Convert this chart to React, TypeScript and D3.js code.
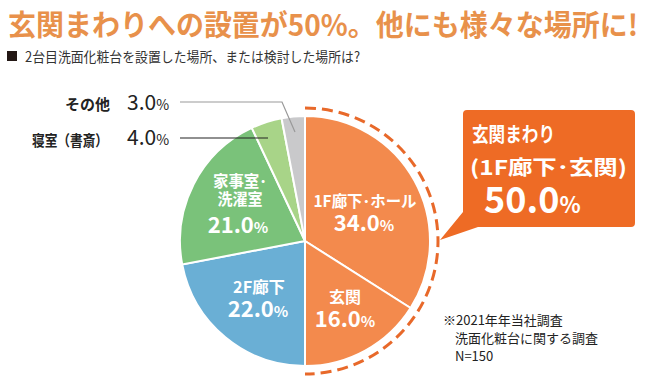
import React from "react";
import * as d3 from "d3";

const categories = ["1F廊下･ホール", "玄関", "2F廊下", "家事室･洗濯室", "寝室（書斎）", "その他"];
const values = [34.0, 16.0, 22.0, 21.0, 4.0, 3.0];
const colors = ["#F38A4D", "#F38A4D", "#6AAFD5", "#7AC27A", "#A8D488", "#C9C9CB"];
const insideLabels: (string[] | null)[] = [["1F廊下･ホール"], ["玄関"], ["2F廊下"], ["家事室･", "洗濯室"], null, null];

const FONT = "'Noto Sans CJK JP', 'Noto Sans', sans-serif";

export default function App() {
  const W = 654, H = 383;
  const cx = 305, cy = 241, R = 125, RD = 133;
  const pie = d3.pie<number>().sort(null).value((d) => d)(values);
  const arc = d3.arc<d3.PieArcDatum<number>>().innerRadius(0).outerRadius(R);
  const dashPath = d3.path();
  dashPath.arc(0, 0, RD, -Math.PI / 2, Math.PI / 2);
  const labelPos: [number, number][] = [[365, 207], [345, 303], [259, 293], [240, 187]];
  const labelW: number[][] = [[103], [32], [52], [54, 45]];
  const pctPos: [number, number][] = [[364, 231], [345, 327], [258, 317], [238, 233]];
  const pct = (v: number, big: number, small: number) => (
    <>
      <tspan fontSize={big}>{v.toFixed(1)}</tspan>
      <tspan fontSize={small}>%</tspan>
    </>
  );
  return (
    <svg width={W} height={H} style={{ position: "absolute", left: 0, top: 0, background: "#fff" }} fontFamily={FONT}>
      <text x={8} y={36} fontSize={29} fontWeight={700} fill="#E8914B" textLength={630} lengthAdjust="spacingAndGlyphs">
        玄関まわりへの設置が50%。他にも様々な場所に!
      </text>
      <rect x={7} y={51} width={10} height={10} fill="#231815" />
      <text x={25} y={62} fontSize={14} fill="#333" textLength={335} lengthAdjust="spacingAndGlyphs">2台目洗面化粧台を設置した場所、または検討した場所は?</text>

      <g transform={`translate(${cx},${cy})`}>
        {pie.map((p, i) => (
          <path key={i} d={arc(p) || ""} fill={colors[i]} stroke="#fff" strokeWidth={2} />
        ))}
        <path d={dashPath.toString()} fill="none" stroke="#E8692A" strokeWidth={3} strokeDasharray="11 6" />
      </g>

      {insideLabels.map((lines, i) =>
        lines ? (
          <g key={i} fill="#fff" fontWeight={700} textAnchor="middle">
            {lines.map((l, j) => (
              <text key={j} x={labelPos[i][0]} y={labelPos[i][1] + j * 18} fontSize={16} textLength={labelW[i][j]} lengthAdjust="spacingAndGlyphs">{l}</text>
            ))}
            <text x={pctPos[i][0]} y={pctPos[i][1]} fontSize={22}>{pct(values[i], 22, 15)}</text>
          </g>
        ) : null
      )}

      {/* outside labels */}
      <text x={110} y={110} fontSize={15} fontWeight={700} textAnchor="end" fill="#222">{categories[5]}</text>
      <text x={127} y={110} fill="#222">{pct(values[5], 21, 14)}</text>
      <polyline points="180,102 282,102 295,132" fill="none" stroke="#999" strokeWidth={1.2} />
      <text x={32} y={146} fontSize={15} fontWeight={700} fill="#222" textLength={76} lengthAdjust="spacingAndGlyphs">{categories[4]}</text>
      <text x={127} y={145} fill="#222">{pct(values[4], 21, 14)}</text>
      <line x1={180} y1={138} x2={268} y2={138} stroke="#222" strokeWidth={1.2} />

      {/* callout */}
      <path d="M467,110 H631 Q635,110 635,114 V223 Q635,227 631,227 H478 L440,240 L463,212 V114 Q463,110 467,110 Z" fill="#EE6B25" />
      <g fill="#fff" fontWeight={700}>
        <text x={472} y={142} fontSize={20} textLength={83} lengthAdjust="spacingAndGlyphs">玄関まわり</text>
        <text x={470} y={175} fontSize={20} textLength={157} lengthAdjust="spacingAndGlyphs">(1F廊下･玄関)</text>
        <text x={484} y={213} fontSize={36}>{pct(50, 36, 22)}</text>
      </g>

      <g fill="#222" fontSize={13}>
        <text x={443} y={325}>※2021年年当社調査</text>
        <text x={455} y={343}>洗面化粧台に関する調査</text>
        <text x={455} y={361}>N=150</text>
      </g>
    </svg>
  );
}
